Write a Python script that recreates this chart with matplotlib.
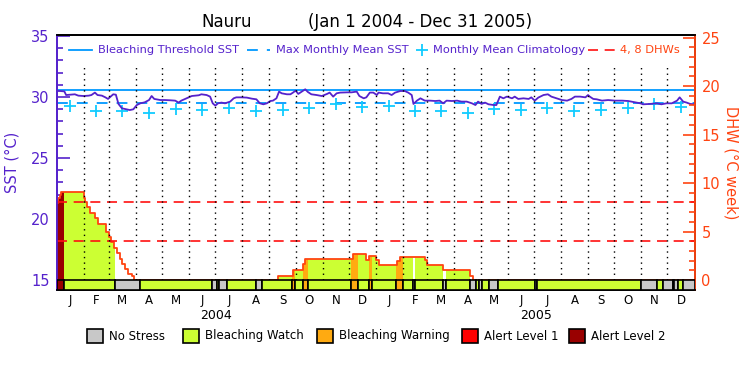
import numpy as np
import matplotlib
matplotlib.use('Agg')
import matplotlib.pyplot as plt
from matplotlib.patches import Rectangle
from matplotlib.lines import Line2D

# all days counted from 1 Jan 2004
sst_days = [0, 4, 9, 11, 16, 21, 25, 31, 37, 40, 44, 47, 52, 56, 59, 61, 65, 68, 71, 75,
            80, 84, 88, 92, 96, 101, 106, 109, 112, 119, 124, 130, 136, 140, 143, 149, 155, 163, 166, 172,
            176, 179, 182, 185, 189, 193, 199, 203, 206, 212, 218, 224, 229, 233, 237, 241, 245, 248, 252, 255,
            258, 264, 268, 271, 274, 277, 282, 285, 288, 292, 298, 304, 310, 313, 317, 321, 325, 333, 338, 344,
            347, 352, 355, 359, 363, 367, 369, 374, 380, 384, 388, 394, 399, 403, 407, 409, 413, 417, 422, 428,
            434, 439, 443, 447, 453, 459, 464, 470, 476, 480, 483, 487, 491, 495, 501, 504, 508, 512, 516, 522,
            525, 529, 535, 541, 544, 548, 552, 558, 563, 567, 573, 579, 585, 590, 594, 600, 606, 609, 611, 615,
            619, 625, 632, 640, 648, 655, 663, 669, 672, 680, 688, 693, 699, 705, 711, 714, 718, 722, 726, 731]
sst_vals = [30.49, 30.49, 30.46, 30.16, 30.19, 30.22, 30.11, 30.08, 30.11, 30.16, 30.36, 30.16, 30.11, 29.97, 29.84, 29.97, 30.22, 30.19, 29.43, 29.07,
            28.99, 28.93, 28.99, 29.34, 29.48, 29.56, 29.75, 30.08, 29.84, 29.75, 29.75, 29.73, 29.70, 29.54, 29.70, 29.89, 30.08, 30.14, 30.22, 30.16,
            30.03, 29.48, 29.29, 29.48, 29.54, 29.48, 29.62, 29.89, 29.97, 29.97, 29.95, 29.86, 29.81, 29.48, 29.40, 29.48, 29.67, 29.70, 29.89, 30.44,
            30.30, 30.22, 30.22, 30.36, 30.52, 30.25, 30.49, 30.63, 30.41, 30.22, 30.16, 30.08, 30.25, 30.36, 30.03, 30.30, 30.36, 30.38, 30.38, 30.44,
            30.08, 29.89, 29.97, 30.36, 30.36, 30.16, 30.36, 30.30, 30.30, 30.16, 30.36, 30.49, 30.49, 30.36, 30.16, 29.43, 29.70, 29.89, 29.70, 29.70,
            29.67, 29.70, 29.48, 29.70, 29.67, 29.70, 29.62, 29.62, 29.48, 29.34, 29.62, 29.43, 29.54, 29.40, 29.34, 29.34, 30.03, 29.89, 30.03, 29.89,
            30.03, 29.84, 29.89, 29.84, 29.97, 29.70, 29.95, 30.16, 30.22, 30.03, 29.89, 29.75, 29.70, 29.84, 30.03, 30.03, 29.97, 30.16, 30.03, 29.84,
            29.81, 29.70, 29.75, 29.70, 29.70, 29.67, 29.56, 29.48, 29.40, 29.43, 29.48, 29.40, 29.48, 29.48, 29.70, 29.97, 29.62, 29.54, 29.43, 29.40]

clim_sst = [29.30, 28.88, 28.88, 28.72, 28.99, 28.93, 29.13, 28.88, 28.95, 29.13, 29.43, 29.14]
mmm_sst = 29.48
threshold_sst = 30.56

# degree heating weeks, step values starting at each day
dhw_days = [0, 2, 4, 5, 31, 33, 35, 38, 44, 47, 57, 60, 63, 66, 69, 73, 75, 78, 82, 86,
            89, 254, 271, 282, 285, 340, 355, 358, 366, 369, 390, 394, 422, 425, 443, 474, 477]
dhw_vals = [7.9, 8.42, 8.76, 9.11, 8.49, 8.08, 7.56, 6.94, 6.36, 5.74, 4.98, 4.47, 3.95, 3.33, 2.75, 2.16, 1.65, 1.13, 0.58, 0.45,
            0, 0.45, 1.03, 1.62, 2.13, 2.65, 2.06, 2.51, 2.06, 1.55, 1.96, 2.41, 2.06, 1.55, 1.03, 0.45, 0]
dhw_lines = [4, 8]

# stress level: 0 no stress, 1 watch, 2 warning, 3 alert 1, 4 alert 2
stress_start = [0, 9, 67, 96, 178, 184, 186, 195, 229, 236, 270, 273, 282, 288, 337, 345, 358, 361, 389, 397,
                408, 411, 443, 446, 474, 481, 484, 488, 495, 506, 548, 551, 670, 688, 695, 706, 708, 712, 718]
stress_level = [4, 1, 0, 1, 0, 1, 0, 1, 0, 1, 2, 1, 2, 1, 2, 1, 2, 1, 2, 1,
                0, 1, 0, 1, 0, 1, 0, 1, 0, 1, 0, 1, 0, 1, 0, 1, 0, 1, 0]
end_day = 731

month_letters = ['J', 'F', 'M', 'A', 'M', 'J', 'J', 'A', 'S', 'O', 'N', 'D']
years = ['2004', '2005']
stress_names = ['No Stress', 'Bleaching Watch', 'Bleaching Warning', 'Alert Level 1', 'Alert Level 2']
stress_colors = ['#c8c8c8', '#ccff33', '#ffaa11', '#ff0000', '#990000']

PURPLE = '#5522cc'
ORANGE = '#ff4411'
BLUE = '#0099ff'
CYAN = '#11ccff'

plt.rcParams['font.family'] = 'DejaVu Sans'

months = np.arange('2004-01', '2006-01', dtype='datetime64[M]').astype('datetime64[D]')
month_start = (months - np.datetime64('2004-01-01')).astype(int)
month_end = np.append(month_start[1:], end_day)
month_mid = (month_start + month_end) / 2.0

fig = plt.figure(figsize=(7.5, 3.75), dpi=100)
ax = fig.add_axes([56.5 / 750, 1 - 290 / 375, 638 / 750, 255 / 375])
ax2 = ax.twinx()

# SST side
ax.plot(sst_days, sst_vals, color=PURPLE, lw=1.3, zorder=3)
ax.axhline(threshold_sst, color=BLUE, lw=1.3)
ax.axhline(mmm_sst, color=BLUE, lw=1.3, ls=(0, (6, 5)))
ax.plot(month_mid, clim_sst * 2, ls='none', marker='+', ms=8, mew=1.3, color=CYAN)
ax.set_xlim(0, end_day)
ax.set_ylim(14.18, 35.08)
ax.set_yticks([15, 20, 25, 30, 35])
ax.set_yticks(np.arange(15, 36), minor=True)
ax.tick_params(axis='y', which='both', direction='in', colors=PURPLE, labelsize=10.5, pad=5, width=1.2)
ax.tick_params(axis='y', which='major', length=9)
ax.tick_params(axis='y', which='minor', length=4.5)
ax.set_ylabel('SST (°C)', color=PURPLE, fontsize=10.5, labelpad=8)
ax.set_xticks(month_mid)
ax.set_xticklabels(month_letters * 2)
ax.tick_params(axis='x', length=0, labelsize=8.5, pad=3)
for i, yr in enumerate(years):
    ax.text(month_start[12 * i] + 183, -0.1, yr, transform=ax.get_xaxis_transform(),
            ha='center', va='center', fontsize=9)

# DHW side
levels = np.array(stress_level)
starts = np.array(stress_start)
ends = np.append(starts[1:], end_day)
dd = np.array(dhw_days)
dv = np.array(dhw_vals)
for s, e, lev in zip(starts, ends, levels):
    if lev == 0:
        continue
    xs = np.concatenate([[s], dd[(dd > s) & (dd < e)], [e]])
    ys = dv[np.searchsorted(dd, xs, side='right') - 1]
    ax2.fill_between(xs, 0, ys, step='post', color=stress_colors[lev], lw=0, zorder=1)

ax2.step(np.append(dd, end_day), np.append(dv, 0), where='post', color=ORANGE, lw=1.3, zorder=2)
for v in dhw_lines:
    ax2.axhline(v, color='#ff1111', lw=1.2, ls=(0, (6, 4)), zorder=2)
ax2.vlines(month_start[1:], 0, 22.2, colors='black', linestyles=(0, (1, 3)), lw=1, zorder=3)
ax2.bar(starts, -1.03, width=ends - starts, bottom=0, align='edge',
        color=[stress_colors[l] for l in levels], edgecolor='black', lw=1.2, zorder=4)
ax2.set_ylim(-1.03, 25.26)
ax2.set_yticks([0, 5, 10, 15, 20, 25])
ax2.set_yticks(np.arange(0, 26), minor=True)
ax2.tick_params(axis='y', which='both', direction='in', colors=ORANGE, labelsize=10.5, pad=5, width=1.2)
ax2.tick_params(axis='y', which='major', length=9)
ax2.tick_params(axis='y', which='minor', length=4.5)
ax2.set_ylabel('DHW (°C week)', color=ORANGE, fontsize=10.5, rotation=-90, labelpad=13)

ax.spines['left'].set_color(PURPLE)
ax2.spines['left'].set_color(PURPLE)
ax2.spines['right'].set_color(ORANGE)
for a in (ax, ax2):
    for sp in a.spines.values():
        sp.set_linewidth(1.3)

# top legend
legend_y = 0.941
tr = ax2.transAxes
ax2.add_line(Line2D([0.0196, 0.0556], [legend_y, legend_y], transform=tr, color=BLUE, lw=1.3))
ax2.text(0.065, legend_y, 'Bleaching Threshold SST', transform=tr, color=PURPLE, fontsize=8.2, va='center')
ax2.add_line(Line2D([0.2986, 0.3346], [legend_y, legend_y], transform=tr, color=BLUE, lw=1.3, ls=(0, (6, 5))))
ax2.text(0.344, legend_y, 'Max Monthly Mean SST', transform=tr, color=PURPLE, fontsize=8.2, va='center')
ax2.plot([0.573], [legend_y], transform=tr, marker='+', ms=8, mew=1.3, color=CYAN)
ax2.text(0.590, legend_y, 'Monthly Mean Climatology', transform=tr, color=PURPLE, fontsize=8.2, va='center')
ax2.add_line(Line2D([0.833, 0.877], [legend_y, legend_y], transform=tr, color='#ff1111', lw=1.2, ls=(0, (6, 4))))
ax2.text(0.883, legend_y, '4, 8 DHWs', transform=tr, color=ORANGE, fontsize=8.2, va='center')

# title
fig.text(227 / 750, 1 - 22 / 375, 'Nauru', ha='center', va='center', fontsize=12)
fig.text(420 / 750, 1 - 22 / 375, '(Jan 1 2004 - Dec 31 2005)', ha='center', va='center', fontsize=12)

# bottom legend
box_x = [87.3, 183.0, 317.1, 462.0, 569.0]
for bx, name, col in zip(box_x, stress_names, stress_colors):
    fig.patches.append(Rectangle((bx / 750, 1 - 343 / 375), 16 / 750, 14 / 375,
                                 transform=fig.transFigure, facecolor=col, edgecolor='black', lw=1.2))
    fig.text((bx + 22) / 750, 1 - 336 / 375, name, ha='left', va='center', fontsize=8.5)

fig.savefig('out.png', dpi=100)
